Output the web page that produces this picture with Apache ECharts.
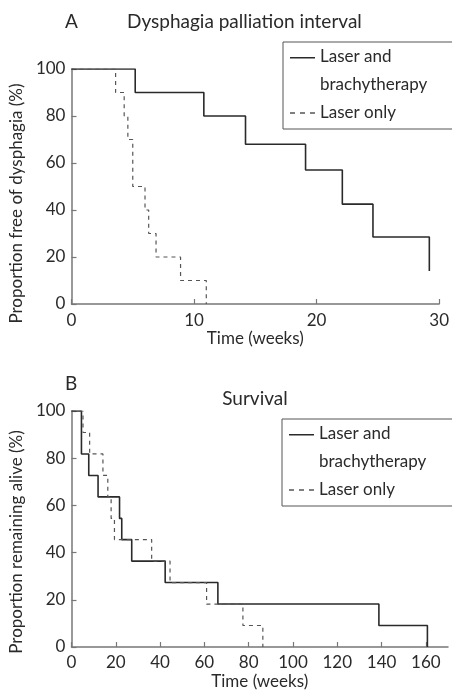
<!DOCTYPE html>
<html><head><meta charset="utf-8">
<script src="https://cdn.jsdelivr.net/npm/echarts@6/dist/echarts.min.js"></script>
<style>html,body{margin:0;padding:0;background:#fff}#c{width:452px;height:694px}</style>
</head><body><div id="c"></div>
<script>
// Group names
const groupNames = ['Laser and\nbrachytherapy', 'Laser only'];

// Panel A: dysphagia palliation interval (weeks, % free of dysphagia)
const dysWeeksLB = [0, 5.2, 10.8, 14.2, 19.1, 22.1, 24.6, 29.2];
const dysPropLB  = [100, 90, 80, 68, 57, 42.5, 28.5, 14];
const dysWeeksL  = [0, 3.6, 4.3, 4.6, 5.0, 6.0, 6.3, 6.9, 8.9, 11.0];
const dysPropL   = [100, 90, 80, 70, 50, 40, 30, 20, 10, 0];

// Panel B: survival (weeks, % remaining alive)
const survWeeksLB = [0, 4.5, 7.8, 12.0, 21.7, 22.7, 27.2, 42.3, 66.1, 138.8, 160.7];
const survPropLB  = [100, 81.8, 72.7, 63.6, 54.5, 45.5, 36.4, 27.3, 18.2, 9.1, 0];
const survWeeksL  = [0, 5.2, 8.2, 14.2, 16.4, 17.9, 19.4, 36.2, 44.5, 61.0, 77.4, 86.4];
const survPropL   = [100, 90.9, 81.8, 72.7, 63.6, 54.5, 45.5, 36.4, 27.3, 18.2, 9.1, 0];

// Axis ticks
const dysXTicks = {min: 0, max: 30, interval: 10};
const survXTicks = {min: 0, max: 170, interval: 20};
const yTicks = {min: 0, max: 100, interval: 20};

const zip = (xs, ys) => xs.map((x, i) => [x, ys[i]]);

const FONT = 'Lato';
const TXT = '#2a2a2a';
const AX = '#777';
const SOLID = '#2a2a2a';
const DASH = '#555';

function xAxis(grid, t, gap, margin) {
  return {
    type: 'value', gridIndex: grid, min: t.min, max: t.max, interval: t.interval,
    name: 'Time (weeks)', nameLocation: 'middle', nameGap: gap,
    nameTextStyle: {fontFamily: FONT, fontSize: 17, color: TXT},
    axisLine: {show: true, lineStyle: {color: AX, width: 1.5}},
    axisTick: {show: true, inside: true, length: 5, lineStyle: {color: AX, width: 1.2}},
    axisLabel: {fontFamily: FONT, fontSize: 17, color: TXT, margin: margin},
    splitLine: {show: false}
  };
}
function yAxis(grid, name, shift) {
  return {
    type: 'value', gridIndex: grid, min: yTicks.min, max: yTicks.max, interval: yTicks.interval,
    name: name, nameLocation: 'middle', nameGap: 41, nameRotate: 90,
    nameTextStyle: {fontFamily: FONT, fontSize: 17, color: TXT, padding: [0, shift, 0, 0]},
    axisLine: {show: true, lineStyle: {color: AX, width: 1.5}},
    axisTick: {show: true, inside: true, length: 5, lineStyle: {color: AX, width: 1.2}},
    axisLabel: {fontFamily: FONT, fontSize: 17, color: TXT, margin: 6},
    splitLine: {show: false}
  };
}
function line(name, xi, data, dashed) {
  return {
    type: 'line', name: name, xAxisIndex: xi, yAxisIndex: xi, data: data,
    step: 'end', symbol: 'none', animation: false,
    lineStyle: dashed ? {color: DASH, width: 1.2, type: [4, 4]} : {color: SOLID, width: 1.6},
    itemStyle: {color: dashed ? DASH : SOLID}
  };
}
function legend(left, top) {
  return {
    left: left, top: top, orient: 'vertical',
    itemWidth: 25, itemHeight: 28, itemGap: 0, itemTextGap: 7,
    padding: [1, 40, 2, 7],
    borderColor: '#555', borderWidth: 1, borderRadius: 0,
    textStyle: {fontFamily: FONT, fontSize: 17, color: TXT, lineHeight: 28},
    data: [
      {name: groupNames[0], icon: 'path://M0,0H25V1.6H0Z M0,28H0.01V28.01H0Z',
       itemStyle: {color: SOLID, borderWidth: 0}},
      {name: groupNames[1], icon: 'path://M0,13.3H5V14.7H0Z M10,13.3H15V14.7H10Z M20,13.3H25V14.7H20Z M0,0H0.01V0.01H0Z M0,28H0.01V28.01H0Z',
       itemStyle: {color: DASH, borderWidth: 0}}
    ],
    selectedMode: false
  };
}

const titleStyle = {fontFamily: FONT, fontSize: 19, fontWeight: 'normal', color: TXT};
const chart = echarts.init(document.getElementById('c'), null, {renderer: 'canvas'});
chart.setOption({
  backgroundColor: '#fff',
  animation: false,
  title: [
    {text: 'A', left: 65, top: 12, padding: 0, textStyle: titleStyle},
    {text: 'Dysphagia palliation interval', left: 127, top: 12, padding: 0, textStyle: titleStyle},
    {text: 'B', left: 65, top: 374, padding: 0, textStyle: titleStyle},
    {text: 'Survival', left: 255, textAlign: 'center', top: 389, padding: 0, textStyle: titleStyle}
  ],
  legend: [legend(283, 42), legend(282, 419)],
  grid: [
    {left: 70, top: 69, width: 378, height: 235, containLabel: false},
    {left: 70, top: 411, width: 378, height: 236, containLabel: false}
  ],
  xAxis: [xAxis(0, dysXTicks, 22, 8), xAxis(1, survXTicks, 26, 7)],
  yAxis: [yAxis(0, 'Proportion free of dysphagia (%)', 34), yAxis(1, 'Proportion remaining alive (%)', 26)],
  series: [
    line(groupNames[0], 0, zip(dysWeeksLB, dysPropLB), false),
    line(groupNames[1], 0, zip(dysWeeksL, dysPropL), true),
    line(groupNames[0], 1, zip(survWeeksLB, survPropLB), false),
    line(groupNames[1], 1, zip(survWeeksL, survPropL), true)
  ]
});
</script></body></html>
